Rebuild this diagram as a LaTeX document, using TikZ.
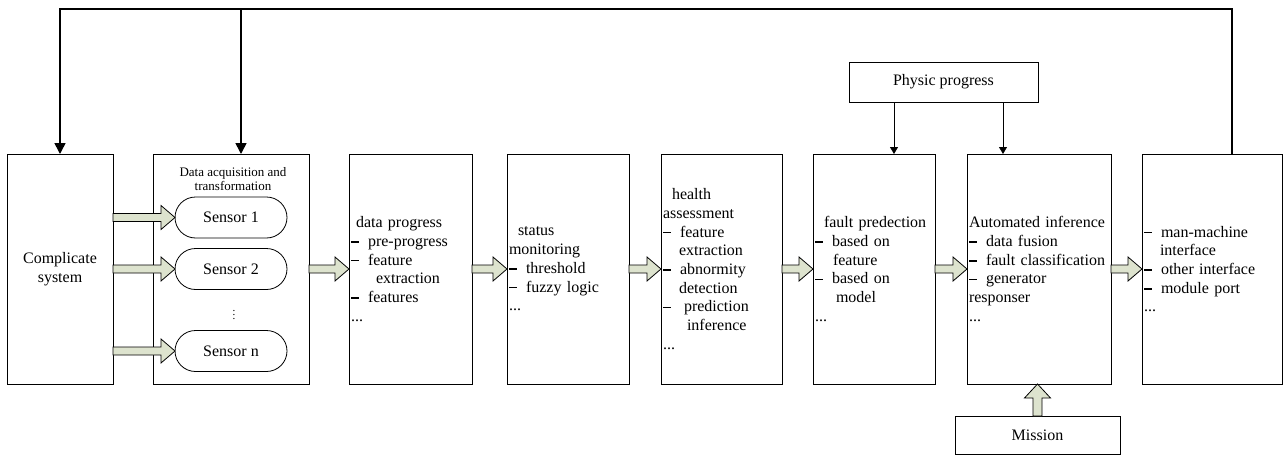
\documentclass[tikz,border=0pt]{standalone}
\usepackage{fontspec}
\setmainfont{Liberation Serif}
\usetikzlibrary{calc,arrows.meta,shapes.misc}
\definecolor{fatfill}{RGB}{221,227,206}
\newcommand\dd{\makebox[17pt][l]{\rule[3.6pt]{8pt}{1.4pt}}}
\newcommand\fatR[2]{\draw[fatarrow] ($(#1)+(0,-4)$) -- ($(#2)+(-14,-4)$) -- ($(#2)+(-14,-12)$) -- (#2) -- ($(#2)+(-14,12)$) -- ($(#2)+(-14,4)$) -- ($(#1)+(0,4)$) -- cycle;}
\newcommand\fatU[2]{\draw[fatarrow] ($(#1)+(-4.5,0)$) -- ($(#2)+(-4.5,14)$) -- ($(#2)+(-13,14)$) -- (#2) -- ($(#2)+(13,14)$) -- ($(#2)+(4.5,14)$) -- ($(#1)+(4.5,0)$) -- cycle;}
\begin{document}
\begin{tikzpicture}[x=1pt,y=-1pt,
  box/.style={draw, line width=0.8pt, minimum height=230pt, inner xsep=2pt, inner ysep=0pt, outer sep=0pt, align=left, font=\fontsize{16}{18.7}\selectfont},
  plainbox/.style={draw, line width=0.8pt, inner sep=0pt, outer sep=0pt, font=\fontsize{16}{18.7}\selectfont},
  sensor/.style={draw, line width=0.8pt, rounded rectangle, minimum width=112pt, minimum height=41pt, inner sep=0pt, outer sep=0pt, font=\fontsize{16}{18.7}\selectfont},
  fatarrow/.style={draw, line width=0.8pt, fill=fatfill, line join=miter},
  fb/.style={line width=1.6pt, -{Triangle[length=11pt,width=11pt]}},
  thinarrow/.style={line width=0.8pt, -{Triangle[length=7pt,width=8pt]}}
]
\useasboundingbox (0,0) rectangle (1286,455);

% main boxes
\node[box, align=center, text width=102pt] (b1) at (60,269) {Complicate\\system};
\node[box, text width=152pt] (b2) at (231,269) {};
\node[box, text width=119pt] (b3) at (410.5,269) {\hspace*{5pt}data progress\\
\dd pre-progress\\
\dd feature\\
\hspace*{25pt}extraction\\
\dd features\\
...};
\node[box, text width=118pt] (b4) at (568,269) {\hspace*{9pt}status\\
monitoring\\
\dd threshold\\
\dd fuzzy logic\\
...};
\node[box, text width=117pt] (b5) at (721.5,269) {\hspace*{9pt}health\\
assessment\\
\dd feature\\
\hspace*{16pt}extraction\\
\dd abnormity\\
\hspace*{16pt}detection\\
\dd\hspace*{4pt}prediction\\
\hspace*{24pt}inference\\
...};
\node[box, text width=118pt] (b6) at (874,269) {\hspace*{9pt}fault predection\\
\dd based on\\
\hspace*{18pt}feature\\
\dd based on\\
\hspace*{21pt}model\\
...};
\node[box, text width=140pt] (b7) at (1039,269) {Automated inference\\
\dd data fusion\\
\dd fault classification\\
\dd generator\\
responser\\
...};
\node[box, text width=136pt] (b8) at (1212,269) {\dd man-machine\\
\hspace*{16pt}interface\\
\dd other interface\\
\dd module port\\
...};

% inside data acquisition box
\node[font=\fontsize{13}{14}\selectfont, align=center, inner sep=0pt] (ttl) at (233,179) {Data acquisition and\\transformation};
\node[sensor] (s1) at (231,217.5) {Sensor 1};
\node[sensor] (s2) at (231,269) {Sensor 2};
\node[sensor] (sn) at (231,351) {Sensor n};
\node[font=\fontsize{11}{12}\selectfont, inner sep=0pt] (dots) at (234,312) {$\vdots$};

% side boxes
\node[plainbox, minimum width=189pt, minimum height=40pt] (phys) at (943.5,82) {Physic progress};
\node[plainbox, minimum width=165pt, minimum height=38pt] (mis) at (1037.5,435) {Mission};

% fat arrows
\coordinate (a1) at (b1.east |- s1.west);
\coordinate (a2) at (b1.east |- s2.west);
\coordinate (an) at (b1.east |- sn.west);
\fatR{a1}{s1.west}
\fatR{a2}{s2.west}
\fatR{an}{sn.west}
\fatR{b2.east}{b3.west}
\fatR{b3.east}{b4.west}
\fatR{b4.east}{b5.west}
\fatR{b5.east}{b6.west}
\fatR{b6.east}{b7.west}
\fatR{b7.east}{b8.west}
\coordinate (mt) at (mis.north |- b7.south);
\fatU{mis.north}{mt}

% physic arrows
\coordinate (p1) at ($(phys.south west)+(45,0)$);
\coordinate (p2) at ($(phys.south west)+(154,0)$);
\draw[thinarrow] (p1) -- (p1 |- b6.north);
\draw[thinarrow] (p2) -- (p2 |- b7.north);

% feedback
\coordinate (fbR) at ($(b8.north)+(20,0)$);
\coordinate (topR) at ($(fbR)+(0,-145)$);
\coordinate (b2in) at ($(b2.north)+(10,0)$);
\draw[fb] (fbR) -- (topR) -| (b1.north);
\draw[fb] (b2in |- topR) -- (b2in);
\end{tikzpicture}
\end{document}
